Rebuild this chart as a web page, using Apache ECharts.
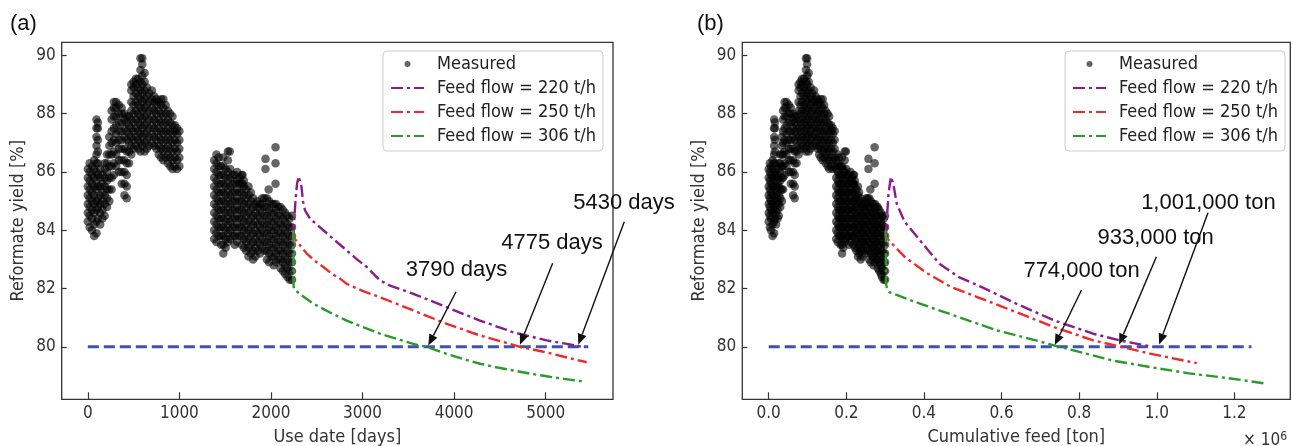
<!DOCTYPE html>
<html><head><meta charset="utf-8">
<script src="https://cdn.jsdelivr.net/npm/echarts@6/dist/echarts.min.js"></script>
<style>html,body{margin:0;padding:0;background:#fff}#c{width:1293px;height:446px}</style>
</head><body><div id="c"></div>
<script>
// ---------- DATA ----------
// Measured yield cloud, read column by column: use day, cumulative feed (x10^6 t), yields [%]
const colDays = [0,20,45,70,95,110,135,160,185,210,235,260,285,310,340,370,400,425,450,475,500,525,550,575,595,620,645,670,700,725,750,775,800,825,850,875,900,925,950,975,1000,
  1380,1405,1430,1455,1480,1505,1530,1555,1580,1605,1630,1655,1680,1705,1730,1755,1780,1805,1830,1855,1880,1905,1930,1955,1980,2005,2030,2055,2080,2105,2130,2155,2180,2205,2230];
const colFeed = [0.000,0.003,0.006,0.010,0.014,0.016,0.019,0.023,0.026,0.030,0.034,0.037,0.041,0.046,0.052,0.057,0.063,0.067,0.072,0.077,0.082,0.086,0.091,0.096,0.099,0.103,0.108,0.112,0.117,0.121,0.126,0.130,0.134,0.139,0.143,0.147,0.152,0.156,0.161,0.165,0.170,
  0.174,0.178,0.181,0.185,0.189,0.192,0.196,0.200,0.204,0.207,0.211,0.215,0.218,0.222,0.226,0.230,0.233,0.237,0.241,0.244,0.248,0.252,0.255,0.259,0.263,0.267,0.270,0.274,0.278,0.281,0.285,0.289,0.292,0.296,0.300];
const colYields = [
  [84.3,84.6,84.9,85.2,85.5,85.8,86.1],
  [84.1,84.5,84.8,85.1,85.4,85.7,86.0,86.3],
  [84.0,84.4,84.7,85.0,85.3,85.6,85.9,86.2],
  [83.8,84.2,84.6,84.9,85.2,85.5,85.8,86.1,86.4],
  [83.9,84.3,84.7,85.0,85.4,85.7,86.0,86.3,86.6,86.9,87.2,87.5,87.8],
  [84.4,84.8,85.1,85.5,85.9,86.3,86.7,87.1,87.5,87.7],
  [84.2,84.6,84.9,85.2,85.5,85.8,86.1],
  [84.4,84.7,85.0,85.3,85.6,85.9],
  [84.5,84.9,85.2,85.5,85.8,86.1,86.3],
  [84.8,85.1,85.4,85.7,86.0,86.3,86.6],
  [85.0,85.4,85.8,86.2,86.6,86.9,87.2],
  [85.4,85.8,86.2,86.6,87.0,87.4,87.8,88.1],
  [85.9,86.3,86.7,87.1,87.5,87.9,88.2,88.4],
  [86.2,86.6,87.0,87.3,87.6,87.9,88.2,88.4],
  [86.0,86.4,86.8,87.1,87.4,87.7,88.0,88.3],
  [85.6,86.0,86.4,86.8,87.1,87.4,87.7,88.0,88.2],
  [85.2,85.6,86.0,86.4,86.8,87.2,87.5,87.8,88.0],
  [85.1,85.5,85.9,86.3,86.7,87.1,87.4,87.7,87.9],
  [86.3,86.7,87.0,87.3,87.6,87.9],
  [86.6,86.9,87.2,87.5,87.8,88.1,88.4,88.8,89.0],
  [86.8,87.1,87.4,87.7,88.0,88.3,88.6,88.9,89.1],
  [86.9,87.2,87.5,87.8,88.1,88.4,88.7,89.0,89.2],
  [86.8,87.1,87.4,87.7,88.0,88.3,88.6,88.9,89.2],
  [86.7,87.0,87.3,87.6,87.9,88.2,88.5,88.8,89.1,89.5,89.9],
  [86.9,87.2,87.5,87.8,88.1,88.4,88.7,89.0,89.3,89.7,89.9],
  [86.7,87.0,87.3,87.6,87.9,88.2,88.5,88.8,89.1,89.4],
  [86.8,87.1,87.4,87.7,88.0,88.3,88.6,88.9],
  [86.9,87.2,87.5,87.8,88.1,88.4,88.7],
  [87.0,87.3,87.6,87.9,88.2,88.5,88.8],
  [86.9,87.2,87.5,87.8,88.1,88.4,88.6],
  [86.8,87.1,87.4,87.7,88.0,88.3,88.5],
  [86.6,86.9,87.2,87.5,87.8,88.1,88.4],
  [86.5,86.8,87.1,87.4,87.7,88.0,88.3,88.5],
  [86.4,86.7,87.0,87.3,87.6,87.9,88.2,88.5],
  [86.5,86.8,87.1,87.4,87.7,88.0,88.3],
  [86.3,86.6,86.9,87.2,87.5,87.8,88.1],
  [86.2,86.5,86.8,87.1,87.4,87.7,88.0],
  [86.1,86.4,86.7,87.0,87.3,87.6,87.9],
  [86.2,86.5,86.8,87.1,87.4,87.6],
  [86.1,86.4,86.7,87.0,87.3,87.5],
  [86.2,86.5,86.8,87.1,87.4],
  [83.7,84.0,84.3,84.6,84.9,85.2,85.5,85.8,86.1,86.4],
  [83.6,83.9,84.2,84.5,84.8,85.1,85.4,85.7,86.0,86.3,86.6],
  [83.8,84.1,84.4,84.7,85.0,85.3,85.6,85.9,86.2,86.5],
  [83.5,83.8,84.1,84.4,84.7,85.0,85.3,85.6,85.9,86.2],
  [83.2,83.5,83.8,84.1,84.4,84.7,85.0,85.3,85.6,85.9,86.2,86.5],
  [83.4,83.7,84.0,84.3,84.6,84.9,85.2,85.5,85.8,86.1],
  [83.6,83.9,84.2,84.5,84.8,85.1,85.4,85.7,86.0,86.4,86.7],
  [83.7,84.0,84.3,84.6,84.9,85.2,85.5,85.8,86.1],
  [83.8,84.1,84.4,84.7,85.0,85.3,85.6,85.9],
  [83.5,83.8,84.1,84.4,84.7,85.0,85.3,85.6,85.9],
  [83.6,83.9,84.2,84.5,84.8,85.1,85.4,85.7,86.0],
  [83.8,84.1,84.4,84.7,85.0,85.3,85.6,85.8],
  [83.5,83.8,84.1,84.4,84.7,85.0,85.3,85.6,85.9],
  [83.4,83.7,84.0,84.3,84.6,84.9,85.2,85.5,85.7],
  [83.3,83.6,83.9,84.2,84.5,84.8,85.1,85.4],
  [83.1,83.4,83.7,84.0,84.3,84.6,84.9,85.2,85.5],
  [83.2,83.5,83.8,84.1,84.4,84.7,85.0,85.3],
  [83.0,83.3,83.6,83.9,84.2,84.5,84.8,85.1],
  [83.1,83.4,83.7,84.0,84.3,84.6,84.9],
  [83.3,83.6,83.9,84.2,84.5,84.8,85.0],
  [83.2,83.5,83.8,84.1,84.4,84.7,84.9],
  [83.4,83.7,84.0,84.3,84.6,84.9,85.1],
  [83.3,83.6,83.9,84.2,84.5,84.8,85.1],
  [83.0,83.3,83.6,83.9,84.2,84.5,84.8,85.1],
  [82.9,83.2,83.5,83.8,84.1,84.4,84.7,85.0],
  [83.1,83.4,83.7,84.0,84.3,84.6,84.9],
  [82.8,83.1,83.4,83.7,84.0,84.3,84.6,84.9],
  [82.9,83.2,83.5,83.8,84.1,84.4,84.7,84.9],
  [83.0,83.3,83.6,83.9,84.2,84.5,84.8],
  [82.7,83.0,83.3,83.6,83.9,84.2,84.5,84.8],
  [82.6,82.9,83.2,83.5,83.8,84.1,84.4,84.7],
  [82.5,82.8,83.1,83.4,83.7,84.0,84.3,84.6],
  [82.4,82.7,83.0,83.3,83.6,83.9,84.2,84.5],
  [82.3,82.6,82.9,83.2,83.5,83.8,84.1,84.4],
  [82.3,82.6,82.9,83.2,83.5,83.8,84.1,84.5]
];
// isolated measured points
const extraDays   = [1550, 1690, 1690, 1940, 1940, 1975, 2050, 2050, 2050];
const extraFeed   = [0.199,0.220,0.220,0.257,0.257,0.262,0.273,0.273,0.273];
const extraYields = [86.7, 85.9, 85.6, 86.45,86.1, 85.4, 86.85,86.3, 85.6];

// Predictions vs use date [days]
const purpleDays = [[2245,83.8],[2255,84.4],[2270,85.1],[2285,85.6],[2303,85.85],[2318,85.8],[2333,85.5],[2350,85.0],[2372,84.68],[2427,84.4],[2500,84.2],[2572,84.0],[2700,83.65],[2827,83.31],[2940,83.0],[3046,82.74],[3191,82.28],[3300,82.1],[3555,81.82],[3919,81.36],[4283,80.9],[4646,80.5],[5011,80.22],[5200,80.12],[5400,80.0]];
const redDays = [[2245,84.0],[2248,83.75],[2300,83.55],[2391,83.2],[2480,82.95],[2572,82.74],[2660,82.52],[2754,82.34],[2827,82.16],[3000,81.92],[3191,81.7],[3555,81.25],[3919,80.79],[4283,80.39],[4646,80.07],[4720,80.0],[5011,79.81],[5250,79.62],[5448,79.47]];
const greenDays = [[2245,84.0],[2245,82.2],[2250,82.0],[2300,81.85],[2463,81.48],[2650,81.17],[2827,80.9],[3000,80.68],[3191,80.45],[3400,80.25],[3555,80.1],[3718,79.98],[3919,79.76],[4100,79.58],[4283,79.42],[4460,79.3],[4646,79.19],[4830,79.08],[5011,78.99],[5200,78.9],[5411,78.81]];
const limitDays = [[0,80],[5465,80]];

// Predictions vs cumulative feed [x10^6 ton]
const purpleFeed = [[0.302,83.8],[0.305,84.5],[0.309,85.3],[0.315,85.83],[0.321,85.6],[0.33,84.91],[0.35,84.3],[0.39,83.65],[0.44,82.85],[0.49,82.39],[0.549,82.05],[0.638,81.48],[0.737,80.9],[0.836,80.45],[0.905,80.22],[0.97,80.05],[0.99,80.0]];
const redFeed = [[0.302,84.0],[0.302,83.76],[0.351,83.08],[0.41,82.51],[0.47,82.05],[0.539,81.7],[0.638,81.19],[0.737,80.67],[0.836,80.22],[0.905,80.01],[0.985,79.76],[1.103,79.44]];
const greenFeed = [[0.302,84.0],[0.302,82.2],[0.304,82.05],[0.31,81.88],[0.39,81.48],[0.49,81.02],[0.589,80.56],[0.688,80.22],[0.747,80.01],[0.886,79.53],[0.985,79.3],[1.083,79.09],[1.182,78.93],[1.276,78.75]];
const limitFeed = [[0,80],[1.244,80]];

const xTicksA = [0,1000,2000,3000,4000,5000];
const xTicksB = [0,0.2,0.4,0.6,0.8,1.0,1.2];
const yTicks = [80,82,84,86,88,90];
const seriesNames = ['Measured','Feed flow = 220 t/h','Feed flow = 250 t/h','Feed flow = 306 t/h'];

// annotations: label, text anchor, arrow tail, arrow tip (data coords)
const annA = [
  {label:'3790 days', text:[4026,82.64], from:[4021,81.89], to:[3718,80.05]},
  {label:'4775 days', text:[5069,83.56], from:[5076,82.87], to:[4719,80.07]},
  {label:'5430 days', text:[5855,84.95], from:[5858,84.29], to:[5356,80.07]}
];
const annB = [
  {label:'774,000 ton', text:[0.806,82.6], from:[0.806,81.95], to:[0.737,80.06]},
  {label:'933,000 ton', text:[0.997,83.75], from:[0.999,83.09], to:[0.903,80.08]},
  {label:'1,001,000 ton', text:[1.133,84.95], from:[1.132,84.6], to:[1.006,80.08]}
];

// ---------- BUILD ----------
const measuredA = [], measuredB = [];
colDays.forEach((d, i) => colYields[i].forEach(v => { measuredA.push([d, v]); measuredB.push([colFeed[i], v]); }));
extraDays.forEach((d, i) => { measuredA.push([d, extraYields[i]]); measuredB.push([extraFeed[i], extraYields[i]]); });

const FONT = "'DejaVu Sans Condensed', 'DejaVu Sans', sans-serif";
const AFONT = "'Liberation Sans', Arial, sans-serif";
const TXT = '#333';
const COLORS = {purple:'#8a1c8e', red:'#f22a2a', green:'#2a9a2a', blue:'#3d52b4'};
const DASHDOT = [12,4,3,4];

function xAxis(idx, min, max, ticks, name, fmt) {
  return {
    gridIndex: idx, type: 'value', min, max,
    axisLine: {show: false, onZero: false}, splitLine: {show: false},
    axisTick: {show: true, inside: true, length: 7, customValues: ticks, lineStyle: {color: TXT, width: 1.2}},
    axisLabel: {customValues: ticks, fontSize: 17, fontFamily: FONT, color: TXT, margin: 6, formatter: fmt},
    name, nameLocation: 'middle', nameGap: 29,
    nameTextStyle: {fontSize: 18, fontFamily: FONT, color: TXT}
  };
}
function yAxis(idx) {
  return {
    gridIndex: idx, type: 'value', min: 78.2, max: 90.45,
    axisLine: {show: false, onZero: false}, splitLine: {show: false},
    axisTick: {show: true, inside: true, length: 5, customValues: yTicks, lineStyle: {color: TXT, width: 1.2}},
    axisLabel: {customValues: yTicks, fontSize: 17, fontFamily: FONT, color: TXT, margin: 6},
    name: 'Reformate yield [%]', nameLocation: 'middle', nameGap: 34, nameRotate: 90,
    nameTextStyle: {fontSize: 18, fontFamily: FONT, color: TXT}
  };
}
function lineS(name, data, color, idx) {
  return {type: 'line', name, data, xAxisIndex: idx, yAxisIndex: idx, symbol: 'none', z: 3,
    lineStyle: {color, width: 2.4, type: DASHDOT}, itemStyle: {color}};
}
function limitS(data, idx) {
  return {type: 'line', name: 'limit', data, xAxisIndex: idx, yAxisIndex: idx, symbol: 'none', z: 2,
    lineStyle: {color: COLORS.blue, width: 3, type: [11,5]}, itemStyle: {color: COLORS.blue}};
}
function scatterS(data, idx) {
  return {type: 'scatter', name: 'Measured', data, xAxisIndex: idx, yAxisIndex: idx, symbol: 'circle', symbolSize: 8.5, z: 1,
    itemStyle: {color: '#000', opacity: 0.6}};
}
function legend(left) {
  return {
    left, top: 51, orient: 'vertical', selectedMode: false,
    data: seriesNames.map((n, i) => i === 0 ? {name: n} : {name: n, itemStyle: {opacity: 0}}),
    itemWidth: 33, itemHeight: 6, itemGap: 6,
    textStyle: {fontSize: 18, fontFamily: FONT, color: '#222', padding: [0, 0, 0, 8]},
    backgroundColor: '#fff', borderColor: '#ccc', borderWidth: 1, borderRadius: 4,
    padding: [4, 7, 6, 7]
  };
}

const gridBase = {top: 42.3, height: 357, show: true, borderColor: '#333', borderWidth: 1.3, backgroundColor: 'transparent', outerBoundsMode: 'none', containLabel: false};
const option = {
  animation: false,
  backgroundColor: '#fff',
  grid: [
    Object.assign({left: 61.7, width: 551.3}, gridBase),
    Object.assign({left: 742.3, width: 548}, gridBase)
  ],
  xAxis: [
    xAxis(0, -285, 5735, xTicksA, 'Use date [days]', v => String(v)),
    xAxis(1, -0.068, 1.344, xTicksB, 'Cumulative feed [ton]', v => v.toFixed(1))
  ],
  yAxis: [yAxis(0), yAxis(1)],
  legend: [legend(383), legend(1065)],
  series: [
    scatterS(measuredA, 0),
    limitS(limitDays, 0),
    lineS(seriesNames[1], purpleDays, COLORS.purple, 0),
    lineS(seriesNames[2], redDays, COLORS.red, 0),
    lineS(seriesNames[3], greenDays, COLORS.green, 0),
    scatterS(measuredB, 1),
    limitS(limitFeed, 1),
    lineS(seriesNames[1], purpleFeed, COLORS.purple, 1),
    lineS(seriesNames[2], redFeed, COLORS.red, 1),
    lineS(seriesNames[3], greenFeed, COLORS.green, 1)
  ]
};

const chart = echarts.init(document.getElementById('c'), null, {renderer: 'canvas'});
chart.setOption(option);

// annotations
const graphics = [
  {type: 'text', left: 10, top: 13, style: {text: '(a)', font: '22px ' + AFONT, fill: '#111'}},
  {type: 'text', left: 697, top: 13, style: {text: '(b)', font: '22px ' + AFONT, fill: '#111'}},
  {type: 'text', left: 1243, top: 431, style: {
    rich: {m: {fontSize: 17, fontFamily: FONT, fill: TXT}, s: {fontSize: 12, fontFamily: FONT, fill: TXT, verticalAlign: 'top', padding: [0,0,8,0]}},
    text: '{m|× 10}{s|6}'}}
];
function addAnn(list, idx) {
  list.forEach(a => {
    const t = chart.convertToPixel({gridIndex: idx}, a.text);
    const f = chart.convertToPixel({gridIndex: idx}, a.from);
    const p = chart.convertToPixel({gridIndex: idx}, a.to);
    graphics.push({type: 'text', x: t[0], y: t[1], z: 10,
      style: {text: a.label, font: '22px ' + AFONT, fill: '#111', align: 'center', verticalAlign: 'middle'}});
    const dx = p[0] - f[0], dy = p[1] - f[1], L = Math.hypot(dx, dy);
    const ux = dx / L, uy = dy / L, hl = 11, hw = 4.5;
    const bx = p[0] - ux * hl, by = p[1] - uy * hl;
    graphics.push({type: 'line', z: 10, shape: {x1: f[0], y1: f[1], x2: bx, y2: by}, style: {stroke: '#111', lineWidth: 1.4}});
    graphics.push({type: 'polygon', z: 10, shape: {points: [[p[0], p[1]], [bx - uy * hw, by + ux * hw], [bx + uy * hw, by - ux * hw]]}, style: {fill: '#111'}});
  });
}
addAnn(annA, 0);
addAnn(annB, 1);
chart.setOption({graphic: graphics});
</script></body></html>
